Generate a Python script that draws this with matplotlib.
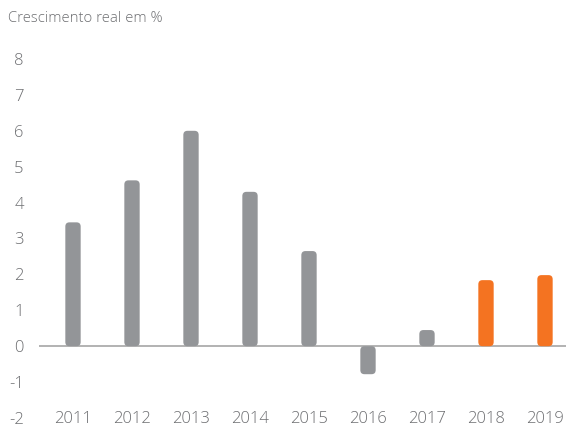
import matplotlib
matplotlib.use("Agg")
import matplotlib.pyplot as plt
from matplotlib.patches import FancyBboxPatch

years = ["2011", "2012", "2013", "2014", "2015", "2016", "2017", "2018", "2019"]
growth = [3.45, 4.62, 6.0, 4.3, 2.65, -0.78, 0.45, 1.84, 1.98]
colors = ["#939598"] * 7 + ["#F47321"] * 2
yticks = [-2, -1, 0, 1, 2, 3, 4, 5, 6, 7, 8]

plt.rcParams['font.family'] = ['Open Sans', 'DejaVu Sans']
plt.rcParams['font.weight'] = 'light'

fig = plt.figure(figsize=(5.66, 4.28), dpi=100)
left_px = 39.0
ax = fig.add_axes([left_px/566, 10/428, (566-left_px)/566, (418-59)/428])

x = list(range(len(years)))
bars = ax.bar(x, growth, width=0.26, color=colors)
x0 = -0.5 - (43.5 - left_px)/59.0
ax.set_xlim(x0, x0 + (566-left_px)/59.0)
ax.set_ylim(-2, 8)

# replace rectangles with rounded bars
for b, c in zip(bars, colors):
    bx, by, bw, bh = b.get_x(), b.get_y(), b.get_width(), b.get_height()
    if bh < 0:
        by, bh = by + bh, -bh
    b.set_visible(False)
    p = FancyBboxPatch((bx, by), bw, bh,
                       boxstyle="round,pad=0,rounding_size=0.07",
                       mutation_aspect=59.0/35.9,
                       facecolor=c, edgecolor="none", zorder=3)
    ax.add_patch(p)

ax.axhline(0, color="#A6A6A6", lw=1.2, zorder=2)

for s in ax.spines.values():
    s.set_visible(False)

ax.set_xticks(x)
ax.set_xticklabels(years)
ax.set_yticks(yticks)
ax.set_yticklabels([str(v) for v in yticks])
ax.tick_params(axis='both', length=0, labelsize=12, colors="#6d6e71")
ax.tick_params(axis='x', pad=-5)
ax.tick_params(axis='y', pad=11)

fig.text(8/566, 1 - 19/428, "Crescimento real em %", fontsize=10.7,
         color="#6d6e71", ha="left", va="center")

fig.savefig("out.png", dpi=100)
